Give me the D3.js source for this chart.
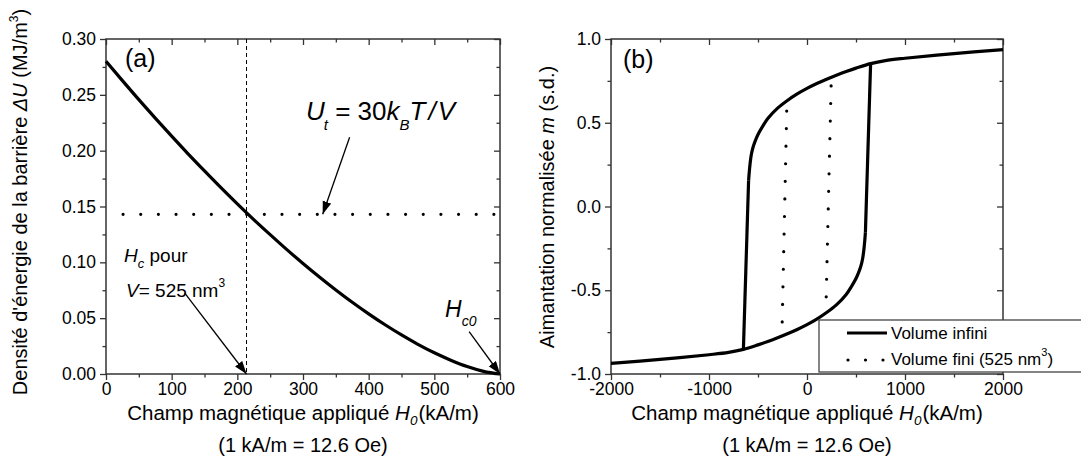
<!DOCTYPE html>
<html><head><meta charset="utf-8">
<script src="https://cdn.jsdelivr.net/npm/d3@7"></script>
<style>
body{margin:0;background:#fff}
svg{display:block}
text{font-family:"Liberation Sans",Arial,sans-serif;fill:#000}
</style>
</head><body>
<svg id="chart" width="1081" height="466"></svg>
<script>
// ---------- Panel (a) data ----------
const fieldA = [0,25,50,75,100,125,150,175,200,225,250,275,300,325,350,375,400,425,450,475,500,525,550,575,600];
const barrierA = [0.2800,0.2627,0.2457,0.2292,0.2130,0.1972,0.1819,0.1669,0.1524,0.1383,0.1248,0.1116,0.0990,0.0869,0.0753,0.0643,0.0539,0.0441,0.0350,0.0266,0.0190,0.0124,0.0067,0.0024,0.0000];
const thresholdU = 0.143;
const thresholdSpan = [26, 591];
const hcFinite = 214;
const xTicksA = [0,100,200,300,400,500,600];
const xMinorA = [50,150,250,350,450,550];
const yTicksA = [0,0.05,0.10,0.15,0.20,0.25,0.30];
const yMinorA = [0.025,0.075,0.125,0.175,0.225,0.275];
// arrows [x0,y0,x1,y1] in data units
const arrowUt = [371, 0.212, 330, 0.143];
const arrowHc = [120, 0.0725, 214, 0.0];
const arrowHc0 = [553, 0.038, 600, 0.0];

// ---------- Panel (b) data ----------
const upperH = [2000,1500,1000,800,649,500,400,300,200,100,0,-100,-200,-300,-400,-456,-500,-526,-550,-568,-580,-590,-596];
const upperM = [0.937,0.913,0.885,0.871,0.853,0.826,0.806,0.784,0.760,0.734,0.705,0.672,0.633,0.587,0.525,0.475,0.430,0.395,0.355,0.310,0.260,0.200,0.155];
const lowerH = [-2000,-1500,-1000,-800,-649,-500,-400,-300,-200,-100,0,100,200,300,400,456,500,526,550,568,580,590,596];
const lowerM = [-0.937,-0.913,-0.885,-0.871,-0.853,-0.826,-0.806,-0.784,-0.760,-0.734,-0.705,-0.672,-0.633,-0.587,-0.525,-0.475,-0.430,-0.395,-0.355,-0.310,-0.260,-0.200,-0.155];
const jumpDownH = [-596,-649], jumpDownM = [0.155,-0.853];
const jumpUpH = [596,649], jumpUpM = [-0.155,0.853];
const finiteLeftH = [-207,-253], finiteLeftM = [0.57,-0.69];
const finiteRightH = [246,196], finiteRightM = [0.72,-0.54];
const xTicksB = [-2000,-1000,0,1000,2000];
const xMinorB = [-1500,-500,500,1500];
const yTicksB = [-1,-0.5,0,0.5,1];
const yMinorB = [-0.75,-0.25,0.25,0.75];
const legendLabels = ["Volume infini","Volume fini (525 nm"];

// ---------- layout ----------
const svg = d3.select("#chart");
const axisColor = "#333";
const tickFont = "17.5px";
const titleFont = "20px";

const xA = d3.scaleLinear().domain([0,600]).range([106,500]);
const yA = d3.scaleLinear().domain([0,0.3]).range([374,39]);
const xB = d3.scaleLinear().domain([-2000,2000]).range([611,1003]);
const yB = d3.scaleLinear().domain([-1,1]).range([374,39]);

const defs = svg.append("defs");
defs.append("marker").attr("id","arr").attr("markerUnits","userSpaceOnUse")
  .attr("markerWidth",14).attr("markerHeight",10).attr("refX",13).attr("refY",4.5)
  .attr("orient","auto")
  .append("path").attr("d","M0,0 L13,4.5 L0,9 Z").attr("fill","#000");

function frame(x, y, xt, xm, yt, ym, fmtX, fmtY) {
  const g = svg.append("g");
  const [x0,x1] = x.range(), [y0,y1] = y.range();
  g.append("g").attr("transform",`translate(0,${y0})`)
    .call(d3.axisBottom(x).tickValues(xt).tickSize(6).tickSizeOuter(0).tickPadding(3).tickFormat(fmtX));
  g.append("g").attr("transform",`translate(0,${y0})`)
    .call(d3.axisBottom(x).tickValues(xm).tickSize(3.5).tickSizeOuter(0).tickFormat(""));
  g.append("g").attr("transform",`translate(0,${y1})`)
    .call(d3.axisTop(x).tickValues(xt).tickSize(-6).tickSizeOuter(0).tickFormat(""));
  g.append("g").attr("transform",`translate(0,${y1})`)
    .call(d3.axisTop(x).tickValues(xm).tickSize(-3.5).tickSizeOuter(0).tickFormat(""));
  g.append("g").attr("transform",`translate(${x0},0)`)
    .call(d3.axisLeft(y).tickValues(yt).tickSize(6).tickSizeOuter(0).tickPadding(4).tickFormat(fmtY));
  g.append("g").attr("transform",`translate(${x0},0)`)
    .call(d3.axisLeft(y).tickValues(ym).tickSize(3.5).tickSizeOuter(0).tickFormat(""));
  g.append("g").attr("transform",`translate(${x1},0)`)
    .call(d3.axisRight(y).tickValues(yt).tickSize(-6).tickSizeOuter(0).tickFormat(""));
  g.append("g").attr("transform",`translate(${x1},0)`)
    .call(d3.axisRight(y).tickValues(ym).tickSize(-3.5).tickSizeOuter(0).tickFormat(""));
  g.selectAll(".domain").remove();
  g.selectAll(".tick line").attr("stroke",axisColor).attr("stroke-width",1.3);
  g.selectAll(".tick text").attr("font-family",'"Liberation Sans",Arial,sans-serif')
    .attr("font-size",tickFont).attr("fill","#000");
  g.append("rect").attr("x",x0).attr("y",y1).attr("width",x1-x0).attr("height",y0-y1)
    .attr("fill","none").attr("stroke",axisColor).attr("stroke-width",1.5);
  return g;
}

// dotted style with a whole number of gaps so both end dots show
function dotted(sel, step) {
  sel.attr("fill","none").attr("stroke","#000").attr("stroke-width",3.2).attr("stroke-linecap","round");
  sel.each(function(){
    const len = this.getTotalLength();
    const n = Math.max(1, Math.round(len/step));
    d3.select(this).attr("stroke-dasharray", `0,${(len/n - 0.01).toFixed(3)}`);
  });
}

// ===== Panel (a) =====
frame(xA, yA, xTicksA, xMinorA, yTicksA, yMinorA, d => String(d), d => d.toFixed(2));

svg.append("line").attr("x1",xA(hcFinite)).attr("x2",xA(hcFinite))
  .attr("y1",yA(0.3)).attr("y2",yA(0))
  .attr("stroke","#000").attr("stroke-width",1).attr("stroke-dasharray","4,3");
svg.append("path")
  .attr("d", d3.line()([[xA(thresholdSpan[0]),yA(thresholdU)],[xA(thresholdSpan[1]),yA(thresholdU)]]))
  .call(dotted, 17.6);
svg.append("path").datum(fieldA.map((h,i)=>[h,barrierA[i]]))
  .attr("d", d3.line().x(d=>xA(d[0])).y(d=>yA(d[1])).curve(d3.curveMonotoneX))
  .attr("fill","none").attr("stroke","#000").attr("stroke-width",3.2);

function arrow(a, sx, sy) {
  svg.append("line").attr("x1",sx(a[0])).attr("y1",sy(a[1])).attr("x2",sx(a[2])).attr("y2",sy(a[3]))
    .attr("stroke","#000").attr("stroke-width",1.3).attr("marker-end","url(#arr)");
}
arrow(arrowUt, xA, yA);
arrow(arrowHc, xA, yA);
arrow(arrowHc0, xA, yA);

svg.append("text").attr("x",125).attr("y",67).attr("font-size","25px").text("(a)");
svg.append("text").attr("x",623).attr("y",68).attr("font-size","25px").text("(b)");

// Ut label
{
  const t = svg.append("text").attr("x",306).attr("y",120).attr("font-size","26px");
  t.append("tspan").attr("font-style","italic").text("U");
  t.append("tspan").attr("font-style","italic").attr("font-size","15px").attr("dx",-1).attr("dy",10).text("t");
  t.append("tspan").attr("dy",-10).text(" = 30");
  t.append("tspan").attr("font-style","italic").text("k");
  t.append("tspan").attr("font-style","italic").attr("font-size","15px").attr("dy",10).text("B");
  t.append("tspan").attr("font-style","italic").attr("dy",-10).text("T");
  t.append("tspan").attr("font-style","italic").attr("dx",3).text("/");
  t.append("tspan").attr("font-style","italic").attr("dx",2).text("V");
}
// Hc pour
{
  const t = svg.append("text").attr("x",124).attr("y",262).attr("font-size","19px");
  t.append("tspan").attr("font-style","italic").text("H");
  t.append("tspan").attr("font-style","italic").attr("font-size","13px").attr("dy",6).text("c");
  t.append("tspan").attr("dy",-6).text(" pour");
  const v = svg.append("text").attr("x",126).attr("y",297).attr("font-size","19px");
  v.append("tspan").attr("font-style","italic").text("V");
  v.append("tspan").text("= 525 nm");
  v.append("tspan").attr("font-size","12px").attr("dy",-10).text("3");
}
// Hc0
{
  const t = svg.append("text").attr("x",445).attr("y",317).attr("font-size","23px");
  t.append("tspan").attr("font-style","italic").text("H");
  t.append("tspan").attr("font-style","italic").attr("font-size","14px").attr("dy",9).text("c0");
}

function xTitle(cx) {
  const t = svg.append("text").attr("x",cx).attr("y",420).attr("text-anchor","middle").attr("font-size","20.5px");
  t.append("tspan").text("Champ magnétique appliqué ");
  t.append("tspan").attr("font-style","italic").text("H");
  t.append("tspan").attr("font-style","italic").attr("font-size","13.5px").attr("dy",5).text("0");
  t.append("tspan").attr("dy",-5).attr("dx",1).text("(kA/m)");
  svg.append("text").attr("x",cx).attr("y",452).attr("text-anchor","middle").attr("font-size",titleFont)
    .text("(1 kA/m = 12.6 Oe)");
}
xTitle(303);
xTitle(807);
{
  const t = svg.append("text").attr("transform","translate(27,202) rotate(-90)")
    .attr("text-anchor","middle").attr("font-size",titleFont);
  t.append("tspan").text("Densité d'énergie de la barrière ");
  t.append("tspan").attr("font-style","italic").text("ΔU");
  t.append("tspan").text(" (MJ/m");
  t.append("tspan").attr("font-size","12px").attr("dy",-9).text("3");
  t.append("tspan").attr("dy",9).text(")");
}

// ===== Panel (b) =====
frame(xB, yB, xTicksB, xMinorB, yTicksB, yMinorB, d => String(d), d => d.toFixed(1));
{
  const t = svg.append("text").attr("transform","translate(554,207) rotate(-90)")
    .attr("text-anchor","middle").attr("font-size",titleFont);
  t.append("tspan").text("Aimantation normalisée ");
  t.append("tspan").attr("font-style","italic").text("m");
  t.append("tspan").text(" (s.d.)");
}
const lineB = d3.line().x(d=>xB(d[0])).y(d=>yB(d[1]));
const smoothB = d3.line().x(d=>xB(d[0])).y(d=>yB(d[1])).curve(d3.curveCatmullRom.alpha(0.5));
const curveStyle = s => s.attr("fill","none").attr("stroke","#000").attr("stroke-width",3.2).attr("stroke-linejoin","round");
svg.append("path").datum(upperH.map((h,i)=>[h,upperM[i]])).attr("d",smoothB).call(curveStyle);
svg.append("path").datum(lowerH.map((h,i)=>[h,lowerM[i]])).attr("d",smoothB).call(curveStyle);
svg.append("path").datum(jumpDownH.map((h,i)=>[h,jumpDownM[i]])).attr("d",lineB).call(curveStyle);
svg.append("path").datum(jumpUpH.map((h,i)=>[h,jumpUpM[i]])).attr("d",lineB).call(curveStyle);
svg.append("path").datum(finiteLeftH.map((h,i)=>[h,finiteLeftM[i]])).attr("d",lineB).call(dotted, 17.6);
svg.append("path").datum(finiteRightH.map((h,i)=>[h,finiteRightM[i]])).attr("d",lineB).call(dotted, 17.6);

// legend
{
  const g = svg.append("g");
  g.append("rect").attr("x",819).attr("y",320).attr("width",280).attr("height",52)
    .attr("fill","#fff").attr("stroke","#444").attr("stroke-width",1.3);
  g.append("line").attr("x1",847).attr("x2",887).attr("y1",333).attr("y2",333)
    .attr("stroke","#000").attr("stroke-width",3.2);
  g.append("path").attr("d", d3.line()([[848,360],[883,360]])).call(dotted, 17.5);
  g.append("text").attr("x",891).attr("y",339).attr("font-size","17px").text(legendLabels[0]);
  const t = g.append("text").attr("x",891).attr("y",365).attr("font-size","17px");
  t.append("tspan").text(legendLabels[1]);
  t.append("tspan").attr("font-size","11px").attr("dy",-9).text("3");
  t.append("tspan").attr("dy",9).text(")");
}
</script>
</body></html>
